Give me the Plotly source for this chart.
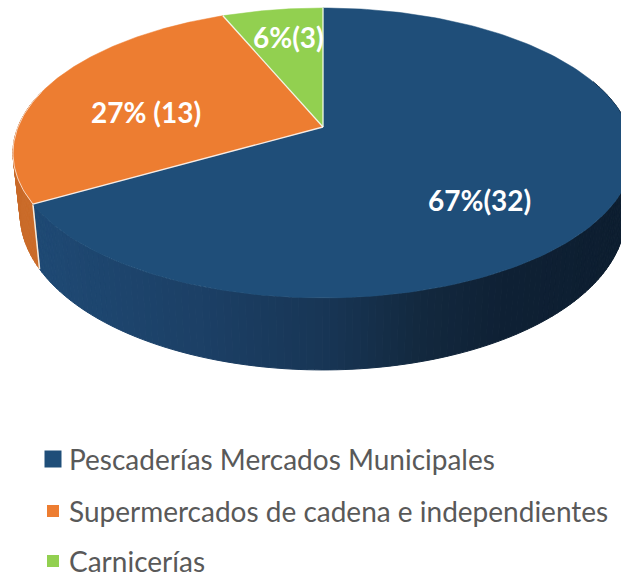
import numpy as np
import plotly.graph_objects as go

categories = ["Pescaderías Mercados Municipales", "Supermercados de cadena e independientes", "Carnicerías"]
counts = [32, 13, 3]
slice_labels = ["67%(32)", "27% (13)", "6%(3)"]

top_colors = ["#1f4e79", "#ed7d31", "#92d050"]
legend_sizes = [17, 12, 12]
legend_y = [459, 511, 561]
label_pos = [(479, 200), (146, 112), (288, 37)]

CX = 323
def project(theta, R, a, b, c):
    u, v = np.sin(theta), np.cos(theta)
    d = c * v + 1
    return CX + R * u / d, (a * v + b) / d

def top_rim(theta):
    return project(theta, 305, -117.6, 127, 0.179)

def low_rim(theta):
    x, y = project(theta, 298, -117.6, 127, 0.179)
    v = np.cos(theta)
    return x, y + 58 - 14 * v

def hexrgb(h):
    return np.array([int(h[i:i + 2], 16) for i in (1, 3, 5)], float)

def shade(x, stops):
    xs = [s[0] for s in stops]
    rgb = [np.interp(x, xs, [hexrgb(s[1])[i] for s in stops]) for i in range(3)]
    return "rgb(%d,%d,%d)" % tuple(rgb)

blue_stops = [(30, "#1f4a75"), (200, "#1c4066"), (323, "#183656"), (420, "#13293f"), (500, "#0f2135"), (621, "#0d1e30")]
orange_stops = [(0, "#c96a28"), (40, "#cb6c2a")]

fig = go.Figure()
total = sum(counts)
edges = np.cumsum([0] + counts) / total * 2 * np.pi

def add_poly(xs, ys, fill, line=None, width=0):
    fig.add_trace(go.Scatter(x=xs, y=ys, mode="lines", fill="toself", fillcolor=fill,
                             line=dict(color=line or fill, width=width if line else 0),
                             hoverinfo="skip", showlegend=False))

def add_line(xs, ys, col, width):
    fig.add_trace(go.Scatter(x=xs, y=ys, mode="lines", line=dict(color=col, width=width),
                             hoverinfo="skip", showlegend=False))

# side walls
def add_wall(a0, a1, stops):
    grid = np.linspace(a0, a1, int((a1 - a0) / np.radians(1.2)) + 2)
    for t0, t1 in zip(grid[:-1], grid[1:]):
        t = np.array([t0, t1])
        xt, yt = top_rim(t)
        xl, yl = low_rim(t)
        col = shade((xt.mean() + xl.mean()) / 2, stops)
        add_poly(list(xt) + list(xl[::-1]) + [xt[0]], list(yt) + list(yl[::-1]) + [yt[0]], col, col, 1)

add_wall(np.radians(70), edges[1], blue_stops)
add_wall(edges[1], np.radians(285), orange_stops)

# divider on the wall
xa, ya = top_rim(edges[1])
xb, yb = low_rim(edges[1])
add_line([xa, xb], [ya, yb], "#f2eadf", 1.5)

# top faces
apex = (CX, 127)
for i, col in enumerate(top_colors):
    th = np.linspace(edges[i], edges[i + 1], 200)
    x, y = top_rim(th)
    add_poly([apex[0]] + list(x) + [apex[0]], [apex[1]] + list(y) + [apex[1]], col, col, 0.5)

# light edges: slice radii and the rim above the orange wall
for e in edges[:3]:
    x, y = top_rim(e)
    add_line([apex[0], x], [apex[1], y], "rgba(255,255,255,0.85)", 1.3)
th = np.linspace(edges[1], np.radians(285), 40)
x, y = top_rim(th)
add_line(list(x), list(y), "rgba(255,255,255,0.7)", 1)

# legend keys
for name, col, s, y in zip(categories, top_colors, legend_sizes, legend_y):
    fig.add_trace(go.Scatter(x=[53], y=[y], mode="markers",
                             marker=dict(symbol="square", size=s, color=col, line=dict(width=0)),
                             hoverinfo="skip", showlegend=False))
    fig.add_annotation(x=67, y=y, text=name, showarrow=False, xanchor="left", yanchor="middle",
                       font=dict(family="Lato", size=28, color="#595959"))

for lab, (x, y) in zip(slice_labels, label_pos):
    fig.add_annotation(x=x, y=y, text="<b>%s</b>" % lab, showarrow=False,
                       font=dict(family="Lato", size=28, color="white"))

fig.update_layout(width=621, height=573, margin=dict(l=0, r=0, t=0, b=0),
                  paper_bgcolor="white", plot_bgcolor="white", showlegend=False,
                  xaxis=dict(range=[0, 621], visible=False, fixedrange=True),
                  yaxis=dict(range=[573, 0], visible=False, fixedrange=True))
fig.write_html("out.html", config={"displayModeBar": False},
               post_script="document.body.style.margin='0';")
